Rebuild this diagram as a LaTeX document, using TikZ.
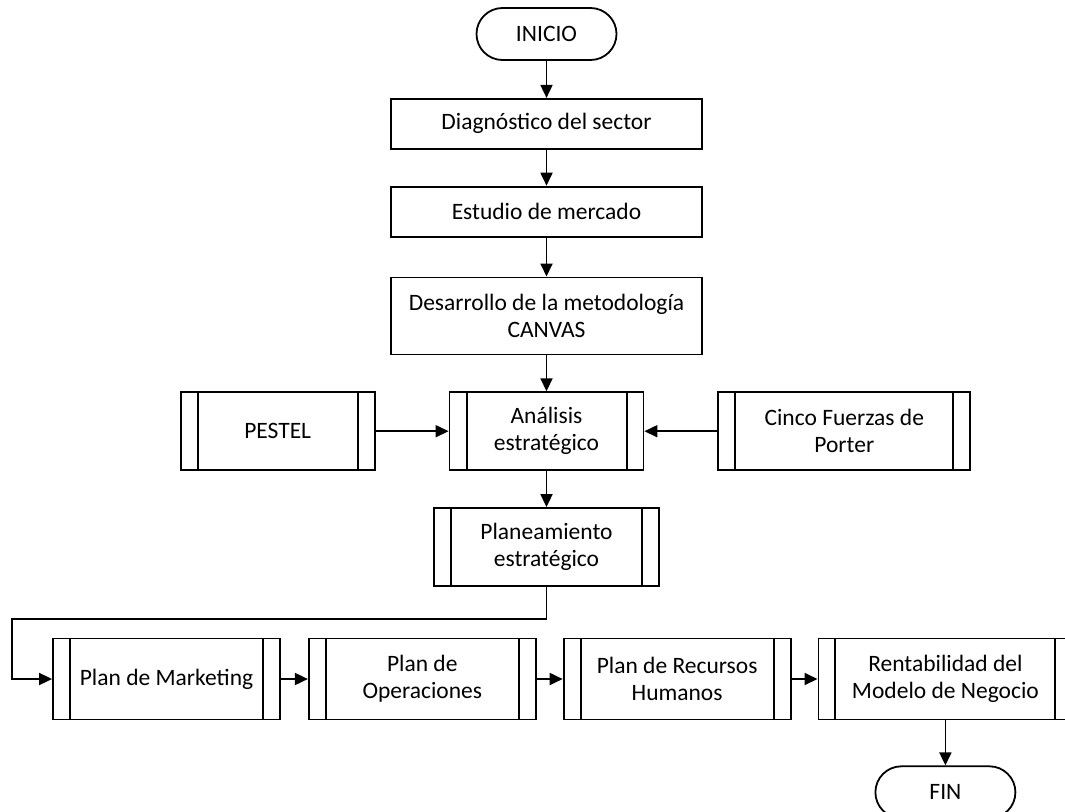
\documentclass[tikz,border=0pt]{standalone}
\usepackage{fontspec}
\setmainfont{Carlito}
\usetikzlibrary{positioning,arrows.meta}

\begin{document}
\begin{tikzpicture}[x=1pt,y=-1pt,node distance=36pt and 73pt,inner sep=0pt,font=\fontsize{23.5}{27}\selectfont]
\tikzstyle{term}=[rectangle, rounded corners=26pt, minimum width=140pt, minimum height=52pt, line width=1.8pt, draw=black]
\tikzstyle{proc}=[rectangle, minimum width=311pt, minimum height=50pt, line width=1.8pt, draw=black, align=center]
\tikzstyle{sub}=[rectangle, minimum width=194pt, minimum height=78pt, line width=1.8pt, draw=black, align=center,
  path picture={\draw[line width=2pt] ([xshift=17pt]path picture bounding box.north west) -- ([xshift=17pt]path picture bounding box.south west)
    ([xshift=-17pt]path picture bounding box.north east) -- ([xshift=-17pt]path picture bounding box.south east);}]
\tikzstyle{connect}=[-{Triangle[length=13pt,width=12pt]}, line width=1.8pt]
\useasboundingbox (0,0) rectangle (1065,811);
\node[term] (inicio) at (546.5,34) {INICIO};
\node[proc] (diag) [below=37pt of inicio] {Diagnóstico del sector};
\node[proc] (est) [below=of diag] {Estudio de mercado};
\node[proc,minimum height=77pt] (des) [below=39pt of est] {Desarrollo de la metodología\\CANVAS};
\node[sub] (ana) [below=of des] {Análisis\\estratégico};
\node[sub] (pestel) [left=of ana] {PESTEL};
\node[sub,minimum width=252pt] (cinco) [right=of ana] {Cinco Fuerzas de\\Porter};
\node[sub,minimum width=225pt] (plan) [below=of ana] {Planeamiento\\estratégico};
\node[sub,minimum width=227pt,minimum height=81pt] (mkt) at (166.5,679) {Plan de Marketing};
\node[sub,minimum width=227pt,minimum height=81pt] (ope) [right=27pt of mkt] {Plan de\\Operaciones};
\node[sub,minimum width=227pt,minimum height=81pt] (rrhh) [right=26pt of ope] {Plan de Recursos\\Humanos};
\node[sub,minimum width=254pt,minimum height=81pt] (rent) [right=26pt of rrhh] {Rentabilidad del\\Modelo de Negocio};
\node[term] (fin) [below=45pt of rent] {FIN};
\coordinate (turn) at (12,619);
\path (inicio) edge[connect] (diag);
\path (diag) edge[connect] (est);
\path (est) edge[connect] (des);
\path (des) edge[connect] (ana);
\path (pestel) edge[connect] (ana);
\path (cinco) edge[connect] (ana);
\path (ana) edge[connect] (plan);
\draw[connect] (plan) |- (turn) |- (mkt);
\path (mkt) edge[connect] (ope);
\path (ope) edge[connect] (rrhh);
\path (rrhh) edge[connect] (rent);
\path (rent) edge[connect] (fin);
\end{tikzpicture}
\end{document}
